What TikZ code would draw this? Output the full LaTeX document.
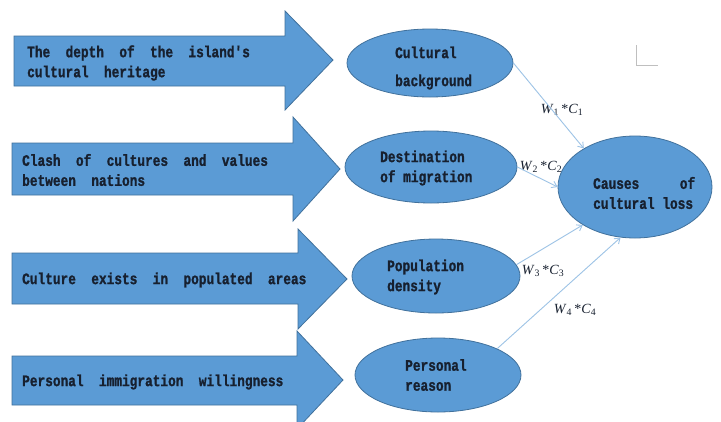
\documentclass[tikz,border=0pt]{standalone}
\usepackage{fontspec}
\usetikzlibrary{shapes.geometric,arrows.meta}
\newfontfamily\labfont[FakeStretch=0.8,WordSpace=2,BoldFeatures={FakeBold=1.2}]{Liberation Mono}
\newfontfamily\wfont{Liberation Serif}
\definecolor{boxblue}{HTML}{5B9BD5}
\definecolor{boxedge}{HTML}{41719C}
\definecolor{linkblue}{HTML}{9DC3E6}
\definecolor{txt}{HTML}{17202F}
\tikzset{
  blockarrow/.style={fill=boxblue,draw=boxedge,line width=0.8pt},
  oval/.style={ellipse,fill=boxblue,draw=boxedge,line width=0.8pt,inner sep=0pt},
  lab/.style={inner sep=0pt,align=left,text=txt,font=\labfont\bfseries\fontsize{16}{20}\selectfont},
  link/.style={draw=linkblue,line width=0.9pt,-{Straight Barb[length=5pt,width=7pt]}},
  wlab/.style={inner sep=0pt,text=txt,font=\wfont\fontsize{14}{16}\selectfont}
}
\newcommand{\wc}[1]{\textit{W}\textsubscript{#1}\,*\textit{C}\textsubscript{#1}}
\newcommand{\sgl}{\hspace{7.7pt}}
\begin{document}
\begin{tikzpicture}[x=1pt,y=-1pt]
\clip (0,0) rectangle (721,421);
\fill[white] (0,0) rectangle (721,421);
% block arrows
\path[blockarrow] (14,36)--(285,36)--(285,11)--(333,60)--(285,110)--(285,86)--(14,86)--cycle;
\path[blockarrow] (12,143)--(293,143)--(293,117)--(340,169)--(293,221)--(293,195)--(12,195)--cycle;
\path[blockarrow] (12,253)--(298,253)--(298,229)--(347,279)--(298,329)--(298,304)--(12,304)--cycle;
\path[blockarrow] (12,356)--(297,356)--(297,331)--(343,380)--(297,429)--(297,405)--(12,405)--cycle;
\node[lab,anchor=west] (a1) at (27,63) {The depth of the island's\\cultural heritage};
\node[lab,anchor=west] (a2) at (22,170) {Clash of cultures and values\\between nations};
\node[lab,anchor=west] (a3) at (22,280) {Culture exists in populated areas};
\node[lab,anchor=west] (a4) at (22,382) {Personal immigration willingness};
% ellipses
\node[oval,minimum width=166pt,minimum height=68pt] (e1) at (430,63) {};
\node[oval,minimum width=172pt,minimum height=72pt] (e2) at (431,167) {};
\node[oval,minimum width=168pt,minimum height=74pt] (e3) at (436,276) {};
\node[oval,minimum width=166pt,minimum height=74pt] (e4) at (438,375) {};
\node[lab,anchor=west] (t1) at (395,68) {Cultural\\[8pt]background};
\node[lab,anchor=west] (t2) at (380,168) {Destination\\of\sgl{}migration};
\node[lab,anchor=west] (t3) at (387,277) {Population\\density};
\node[lab,anchor=west] (t4) at (405,375) {Personal\\reason};
% weight labels
\node[wlab] (w1) at (562,110) {\wc{1}};
\node[wlab] (w2) at (541,167) {\wc{2}};
\node[wlab] (w3) at (543,271) {\wc{3}};
\node[wlab] (w4) at (575,310) {\wc{4}};
% target
\node[oval,minimum width=154pt,minimum height=102pt] (big) at (635,187) {};
\node[lab,anchor=west] (tb) at (593,193) {\makebox[102pt][l]{Causes\hfill of}\\cultural\sgl{}loss};
% connectors
\draw[link] (e1.east) -- (big.143);
\draw[link] (e2.east) -- (big.west);
\draw[link] (e3.8) -- (big.216);
\draw[link] (e4.24) -- (big.254);
% corner mark
\draw[black!25,line width=0.8pt] (636,45) -- (636,65) -- (658,65);
\end{tikzpicture}
\end{document}
